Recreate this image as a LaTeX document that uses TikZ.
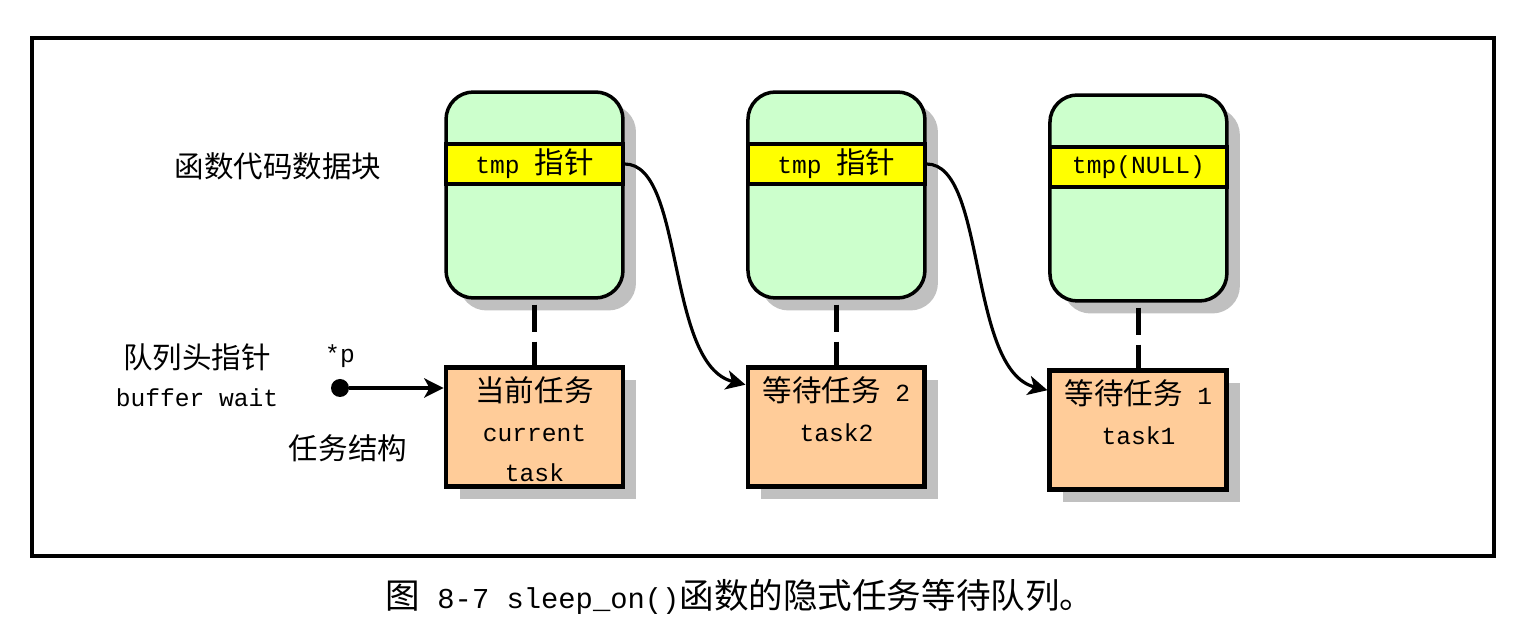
\documentclass[tikz,border=0pt]{standalone}
\usepackage{fontspec}
\setmainfont{Liberation Mono}
\newfontfamily\cjk[Scale=1.2]{Noto Sans CJK SC}
\usetikzlibrary{positioning,arrows.meta,shadows}
\definecolor{codegreen}{HTML}{CCFFCC}
\definecolor{taskorange}{HTML}{FFCC99}
\definecolor{tmpyellow}{HTML}{FFFF00}
\definecolor{shade}{HTML}{C0C0C0}
\newcommand{\tasktext}[1]{\parbox[c][2.38cm][t]{3.4cm}{\centering\vspace*{0.18cm}#1}}

\begin{document}
\begin{tikzpicture}[x=0.02cm, y=-0.02cm,
  every node/.style={font=\fontsize{14}{22.8}\selectfont},
  blk/.style={draw, line width=2pt, rounded corners=0.55cm, fill=codegreen,
    minimum width=3.54cm, minimum height=4.12cm,
    drop shadow={shadow xshift=0.26cm, shadow yshift=-0.25cm, fill=shade, opacity=1}},
  band/.style={draw, line width=2pt, fill=tmpyellow, minimum width=3.54cm,
    minimum height=0.8cm, inner sep=0pt},
  task/.style={draw, line width=2.8pt, fill=taskorange, minimum width=3.54cm,
    minimum height=2.38cm, inner sep=0pt,
    drop shadow={shadow xshift=0.27cm, shadow yshift=-0.26cm, fill=shade, opacity=1}},
  tie/.style={line width=2.6pt, dash pattern=on 0pt off 0.1cm on 0.54cm off 0.2cm on 0.6cm},
  link/.style={-{Stealth[length=11pt, width=11pt, inset=3pt]}, line width=1.8pt},
  dot/.style={circle, fill=black, minimum size=0.36cm, inner sep=0pt}]
\useasboundingbox (0,0) rectangle (1526,644);
\draw[line width=2pt] (32,38) rectangle (1494,556);

% code blocks with the tmp pointer
\node[blk] (blk1) at (534.5,195) {};
\node[blk, right=2.43cm of blk1] (blk2) {};
\node[blk, right=2.43cm of blk2, yshift=-0.06cm] (blk3) {};
\node[band] (tmp1) at ([yshift=0.62cm]blk1.center) {tmp {\cjk 指针}};
\node[band] (tmp2) at ([yshift=0.62cm]blk2.center) {tmp {\cjk 指针}};
\node[band] (tmp3) at ([yshift=0.62cm]blk3.center) {tmp(NULL)};

% task structures
\node[task, below=1.3cm of blk1] (task1) {\tasktext{{\cjk 当前任务}\\current\\task}};
\node[task, below=1.3cm of blk2] (task2) {\tasktext{{\cjk 等待任务} 2\\task2}};
\node[task, below=1.3cm of blk3] (task3) {\tasktext{{\cjk 等待任务} 1\\task1}};

\draw[tie] (blk1) -- (task1);
\draw[tie] (blk2) -- (task2);
\draw[tie] (blk3) -- (task3);

% labels on the left
\node (codelbl) at (278,166) {\cjk 函数代码数据块};
\node (headlbl) at (197,357) {\cjk 队列头指针};
\node (buflbl) at (197,398) {buffer wait};
\node[dot] (p) at (340,388) {};
\node (plbl) at (340,356) {*p};
\node (tasklbl) at (348,448) {\cjk 任务结构};

\draw[link] (p) -- (p -| task1.west);
\draw[link] (tmp1.east) .. controls +(60,0) and +(-80,-20) .. ([yshift=-0.4cm]task2.north west);
\draw[link] (tmp2.east) .. controls +(60,0) and +(-80,-20) .. ([yshift=-0.45cm]task3.north west);

\node (caption) at (740,597) {\fontsize{16.4}{19}\selectfont{\cjk 图} 8-7 sleep\_on(){\cjk 函数的隐式任务等待队列。}};
\end{tikzpicture}
\end{document}
